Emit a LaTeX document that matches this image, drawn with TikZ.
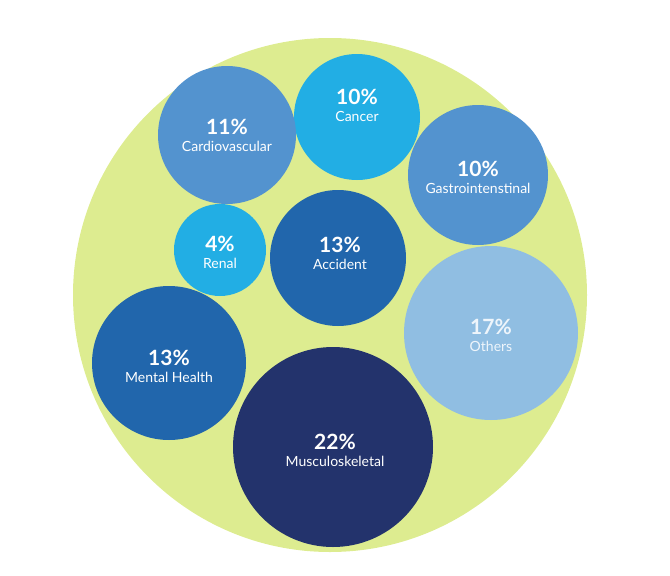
\documentclass[tikz,border=0pt]{standalone}
\usepackage{fontspec}
\setmainfont{Lato}
\definecolor{bg}{HTML}{DDEC90}
\definecolor{cyanb}{HTML}{22AEE4}
\definecolor{midb}{HTML}{5393CF}
\definecolor{darkb}{HTML}{2166AC}
\definecolor{lightb}{HTML}{90BEE2}
\definecolor{navy}{HTML}{23336C}
\newcommand{\bl}[2]{{\fontsize{21}{21}\selectfont\bfseries #1}\\[5pt]{\fontsize{14}{14}\selectfont #2}}
\begin{document}
\begin{tikzpicture}[x=1pt,y=-1pt,
  bub/.style={circle,draw=none,inner sep=0pt,text=white,align=center}]
\useasboundingbox (0,0) rectangle (670,576);
\fill[bg] (330,295) circle (257);
\fill[cyanb] (357,117) circle (63);
\node[bub] (cancer) at (357,105) {\bl{10\%}{Cancer}};
\fill[midb] (227,135) circle (69);
\node[bub] (cardio) at (227,135) {\bl{11\%}{Cardiovascular}};
\fill[midb] (478,175) circle (70);
\node[bub] (gastro) at (478,177) {\bl{10\%}{Gastrointenstinal}};
\fill[cyanb] (220,250) circle (46);
\node[bub] (renal) at (220,252) {\bl{4\%}{Renal}};
\fill[darkb] (338,258) circle (68);
\node[bub] (accident) at (340,253) {\bl{13\%}{Accident}};
\fill[lightb] (491,333) circle (87);
\node[bub,text=white!85!lightb] (others) at (491,335) {\bl{17\%}{Others}};
\fill[darkb] (169,363) circle (77);
\node[bub] (mental) at (169,366) {\bl{13\%}{Mental Health}};
\fill[navy] (333,447) circle (100);
\node[bub] (musc) at (335,450) {\bl{22\%}{Musculoskeletal}};
\end{tikzpicture}
\end{document}
